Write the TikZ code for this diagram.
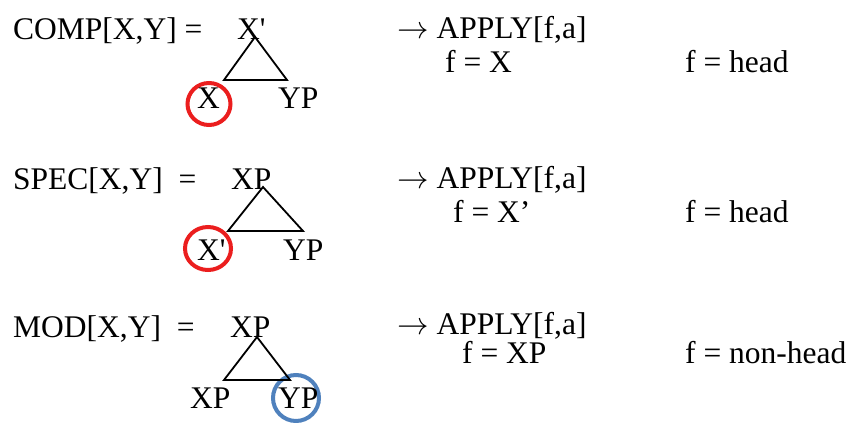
\RequirePackage{fix-cm}
\documentclass[tikz,border=0pt]{standalone}
\usepackage{fontspec}
\setmainfont{Liberation Serif}
\newfontfamily\straightfont{Liberation Serif}
\definecolor{ringred}{RGB}{235,30,30}
\definecolor{ringblue}{RGB}{79,129,189}
\begin{document}
\begin{tikzpicture}[x=1pt,y=-1pt,
  txt/.style={anchor=base west,inner sep=0pt,font=\fontsize{31.5}{36}\selectfont},
  tri/.style={line width=1.8pt,line join=miter},
  ring/.style={line width=4pt}]
\useasboundingbox (0,0) rectangle (852,423);
% circles
\draw[ring,ringred] (209,104) ellipse [x radius=21.5, y radius=21];
\draw[ring,ringred] (208,248.5) ellipse [x radius=23, y radius=21.5];
\draw[ring,ringblue] (296,398) ellipse [x radius=23, y radius=23];
% row 1
\node[txt] (comp) at (13,39) {COMP[X,Y] =};
\node[txt] (r1top) at (237,39) {\straightfont X'};
\node[txt] (r1l) at (197,108) {X};
\node[txt] (r1r) at (278,108) {YP};
\coordinate (t1a) at (255,37);
\coordinate (t1l) at (224,80);
\coordinate (t1r) at (287,80);
\draw[tri] (t1a) -- (t1l) -- (t1r) -- cycle;
% row 2
\node[txt] (spec) at (13,189) {SPEC[X,Y]~~=};
\node[txt] (r2top) at (231,189) {XP};
\node[txt] (r2l) at (197,260) {\straightfont X'};
\node[txt] (r2r) at (283,260) {YP};
\coordinate (t2a) at (263,187);
\coordinate (t2l) at (228,231);
\coordinate (t2r) at (303,231);
\draw[tri] (t2a) -- (t2l) -- (t2r) -- cycle;
% row 3
\node[txt] (mod) at (13,337) {MOD[X,Y]~~=};
\node[txt] (r3top) at (230,337) {XP};
\node[txt] (r3l) at (190,408) {XP};
\node[txt] (r3r) at (278,408) {YP};
\coordinate (t3a) at (257,337);
\coordinate (t3l) at (224,380);
\coordinate (t3r) at (290,380);
\draw[tri] (t3a) -- (t3l) -- (t3r) -- cycle;
% right column
\node[txt] (ap1) at (397,38) {$\rightarrow$ APPLY[f,a]};
\node[txt] (f1) at (445,72) {f = X};
\node[txt] (h1) at (685,72) {f = head};
\node[txt] (ap2) at (397,188) {$\rightarrow$ APPLY[f,a]};
\node[txt] (f2) at (453,222) {f = X’};
\node[txt] (h2) at (685,222) {f = head};
\node[txt] (ap3) at (397,334) {$\rightarrow$ APPLY[f,a]};
\node[txt] (f3) at (462,363) {f = XP};
\node[txt] (h3) at (685,363) {f = non-head};
\end{tikzpicture}
\end{document}
